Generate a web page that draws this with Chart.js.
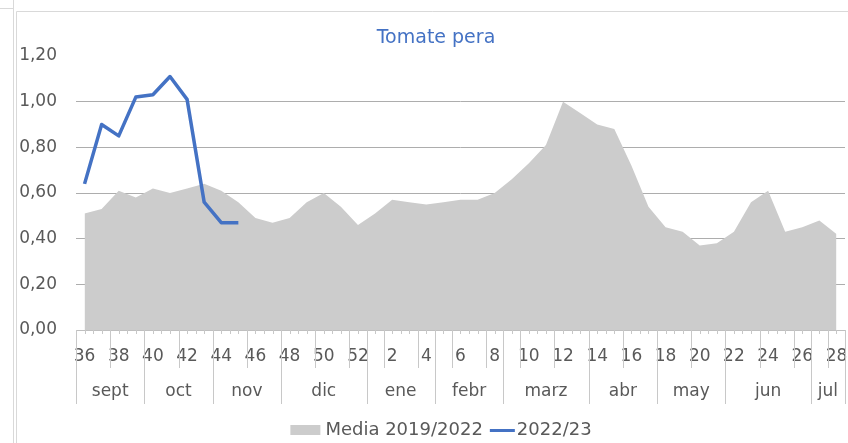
<!DOCTYPE html>
<html>
<head>
<meta charset="utf-8">
<script src="https://cdn.jsdelivr.net/npm/chart.js@4.4.0/dist/chart.umd.min.js"></script>
<style>
  html, body { margin: 0; padding: 0; background: #fff; }
  canvas { display: block; }
</style>
</head>
<body>
<canvas id="myChart" width="848" height="443"></canvas>
<script>
// weeks of the campaign (sept -> jul)
const weeks = ['36','37','38','39','40','41','42','43','44','45','46','47','48','49','50','51','52',
  '1','2','3','4','5','6','7','8','9','10','11','12','13','14','15','16','17','18','19','20',
  '21','22','23','24','25','26','27','28'];
const months = ['sept','oct','nov','dic','ene','febr','marz','abr','may','jun','jul'];
const monthWeeks = [4, 4, 4, 5, 4, 4, 5, 4, 4, 5, 2];

const media = [0.51, 0.53, 0.61, 0.58, 0.62, 0.60, 0.62, 0.64, 0.61, 0.56, 0.49, 0.47, 0.49,
  0.56, 0.60, 0.54, 0.46, 0.51, 0.57, 0.56, 0.55, 0.56, 0.57, 0.57, 0.60, 0.66, 0.73, 0.81,
  1.00, 0.95, 0.90, 0.88, 0.72, 0.54, 0.45, 0.43, 0.37, 0.38, 0.43, 0.56, 0.61, 0.43, 0.45,
  0.48, 0.42];
const season = [0.64, 0.90, 0.85, 1.02, 1.03, 1.11, 1.01, 0.56, 0.47, 0.47];

const yTicks = { min: 0, max: 1.2, step: 0.2 };

const textGray = '#595959';
const fontName = '"DejaVu Sans", sans-serif';

// axis decorations, title, legend and frame
const extras = {
  id: 'extras',
  beforeDraw(chart) {
    const c = chart.ctx;
    c.save();
    c.strokeStyle = '#D9D9D9';
    c.lineWidth = 1;
    c.beginPath();
    c.moveTo(13.5, 0); c.lineTo(13.5, 443);
    c.moveTo(0, 8.5); c.lineTo(13.5, 8.5);
    c.moveTo(16.5, 443); c.lineTo(16.5, 11.5); c.lineTo(848, 11.5);
    c.stroke();
    c.restore();
  },
  afterDraw(chart) {
    const c = chart.ctx;
    const x = chart.scales.x;
    const base = chart.chartArea.bottom;
    const cw = x.getPixelForValue(1) - x.getPixelForValue(0);
    const edge = i => x.getPixelForValue(0) - cw / 2 + i * cw;

    c.save();
    c.strokeStyle = '#C8C8C8';
    c.lineWidth = 1;
    c.beginPath();
    for (let h = 0; h <= weeks.length * 2; h++) {
      const px = Math.round(x.getPixelForValue(0) - cw / 2 + h * cw / 2) + 0.5;
      c.moveTo(px, base);
      c.lineTo(px, base + 4);
    }
    for (let i = 0; i < weeks.length; i += 2) {
      const px = Math.round(edge(i)) + 0.5;
      c.moveTo(px, base);
      c.lineTo(px, base + 38);
    }
    let k = 0;
    const bounds = [0];
    monthWeeks.forEach(n => { k += n; bounds.push(k); });
    bounds.forEach(b => {
      const px = Math.round(edge(b)) + 0.5;
      c.moveTo(px, base);
      c.lineTo(px, base + 74);
    });
    c.stroke();

    // month labels
    c.fillStyle = textGray;
    c.font = '17px ' + fontName;
    c.textAlign = 'center';
    c.textBaseline = 'middle';
    months.forEach((m, j) => {
      const mid = (edge(bounds[j]) + edge(bounds[j + 1])) / 2;
      c.fillText(m, mid, 392);
    });

    // title
    c.fillStyle = '#4472C4';
    c.font = '19px ' + fontName;
    c.textBaseline = 'alphabetic';
    c.fillText('Tomate pera', 436, 43);

    // legend
    const ds = chart.data.datasets;
    c.font = '18px ' + fontName;
    c.textAlign = 'left';
    c.textBaseline = 'middle';
    const t1 = ds[1].label, t2 = ds[0].label;
    const w1 = c.measureText(t1).width, w2 = c.measureText(t2).width;
    const total = 30 + 5 + w1 + 7 + 25 + 2 + w2;
    let lx = 441 - total / 2;
    const ly = 430;
    c.fillStyle = ds[1].backgroundColor;
    c.fillRect(lx, ly - 5, 30, 10);
    lx += 35;
    c.fillStyle = textGray;
    c.fillText(t1, lx, ly);
    lx += w1 + 7;
    c.strokeStyle = ds[0].borderColor;
    c.lineWidth = 3;
    c.beginPath();
    c.moveTo(lx, ly + 0.5); c.lineTo(lx + 25, ly + 0.5);
    c.stroke();
    lx += 27;
    c.fillText(t2, lx, ly);
    c.restore();
  }
};

const config = {
  type: 'line',
  data: {
    labels: weeks,
    datasets: [
      {
        label: '2022/23',
        data: season,
        borderColor: '#4472C4',
        borderWidth: 3.5,
        borderJoinStyle: 'round',
        pointRadius: 0,
        fill: false,
        tension: 0,
        order: 1
      },
      {
        label: 'Media 2019/2022',
        data: media,
        backgroundColor: '#CCCCCC',
        borderWidth: 0,
        pointRadius: 0,
        fill: 'origin',
        tension: 0,
        order: 2
      }
    ]
  },
  options: {
    responsive: false,
    animation: false,
    devicePixelRatio: 1,
    layout: { padding: { top: 56, left: 0, right: 3, bottom: 0 } },
    scales: {
      x: {
        offset: true,
        afterFit: s => { s.height = 113; s.paddingLeft = 0; s.paddingRight = 0; },
        grid: { display: false, drawTicks: false },
        border: { display: true, color: '#BFBFBF', width: 1 },
        ticks: {
          autoSkip: false,
          maxRotation: 0,
          padding: 16,
          color: textGray,
          font: { family: fontName, size: 17 },
          callback: function (v, i) { return i % 2 === 0 ? this.getLabelForValue(v) : ''; }
        }
      },
      y: {
        min: yTicks.min,
        max: yTicks.max,
        afterFit: s => { s.width = 76; s.paddingTop = 0; s.paddingBottom = 0; },
        border: { display: false },
        grid: {
          drawTicks: false,
          lineWidth: 1,
          color: ctx => (ctx.tick.value > 1.1 || ctx.tick.value === 0) ? 'rgba(0,0,0,0)' : '#ADADAD'
        },
        ticks: {
          stepSize: yTicks.step,
          padding: 19,
          color: textGray,
          font: { family: fontName, size: 17 },
          callback: v => v.toFixed(2).replace('.', ',')
        }
      }
    },
    plugins: {
      legend: { display: false },
      title: { display: false },
      tooltip: { enabled: false }
    }
  },
  plugins: [extras]
};

const myChart = new Chart(document.getElementById('myChart'), config);
</script>
</body>
</html>
